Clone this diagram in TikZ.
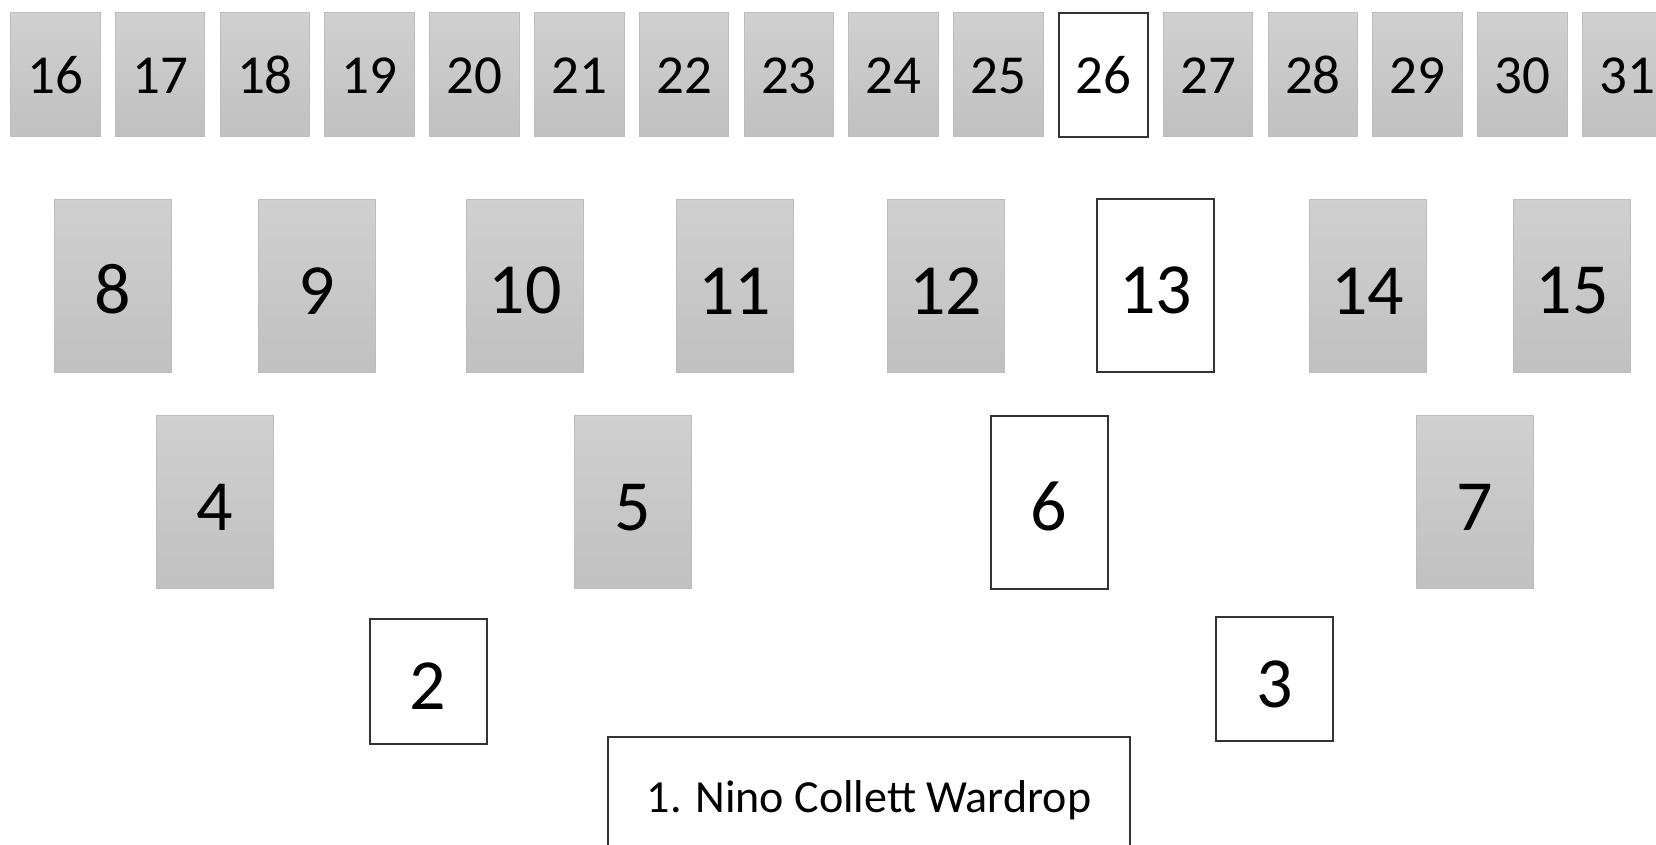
\documentclass[tikz,border=0pt]{standalone}
\usepackage{fontspec}
\setmainfont{Carlito}
\usetikzlibrary{positioning}

\begin{document}
\begin{tikzpicture}[x=1pt, y=-1pt, every node/.style={inner sep=0pt, outer sep=0pt}]
\tikzset{seat/.style={draw=gray!52, line width=1pt, top color=gray!37, bottom color=gray!49}}
\tikzset{picked/.style={draw=black!80, line width=2pt, fill=white}}
\tikzset{small/.style={minimum width=89.5pt, minimum height=124pt, text height=38pt, font=\fontsize{55}{60}\selectfont}}
\tikzset{big/.style={minimum width=117pt, minimum height=173pt, text height=57pt, font=\fontsize{72}{80}\selectfont}}
\useasboundingbox (0,0) rectangle (1656,844);
% back row
\foreach \n in {16,...,25,27,28,...,31}
  \node[seat, small] (s\n) at ({55.3+(\n-16)*104.8}, 74.9) {\n};
\node[picked, small] (s26) at ({55.3+10*104.8}, 74.9) {26};
% second row
\foreach \n/\x in {8/112.5, 9/316.8, 10/525.4, 11/734.5, 12/945.7, 14/1367.6, 15/1572}
  \node[seat, big] (s\n) at (\x, 285.7) {\n};
\node[picked, big] (s13) at (1155.9, 285.7) {13};
% third row
\foreach \n/\x in {4/214.9, 5/633.1, 7/1474.8}
  \node[seat, big] (s\n) at (\x, 502.2) {\n};
\node[picked, big] (s6) at (1049.2, 502.2) {6};
% front
\node[picked, big, minimum height=124.6pt] (s2) at (428.2, 681.2) {2};
\node[picked, big, minimum height=124.6pt] (s3) at (1274.7, 679) {3};
\node[picked, minimum width=522pt, minimum height=126pt, font=\fontsize{46}{50}\selectfont] (s1) at (869, 800) {1. Nino Collett Wardrop};
\end{tikzpicture}
\end{document}
